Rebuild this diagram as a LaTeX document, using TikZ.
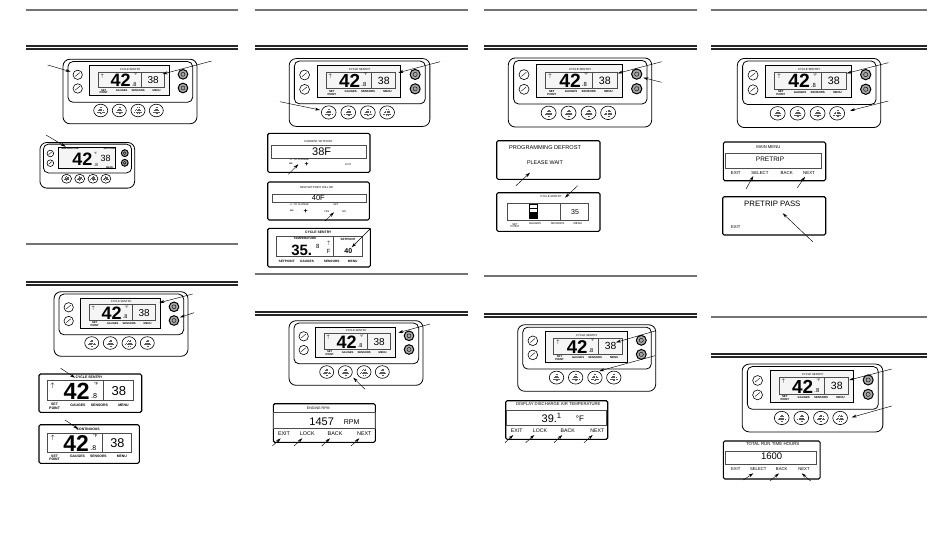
\documentclass[tikz,border=0pt]{standalone}
\usepackage{fontspec}
\setmainfont{Liberation Sans}
\usetikzlibrary{arrows.meta,shapes.geometric}

\newcommand{\fsz}[1]{\fontsize{#1}{#1}\selectfont}
\tikzset{
  rulethin/.style={draw=black!55,line width=1.1pt},
  ruledark/.style={draw=black!85,line width=1.2pt},
  callout/.style={->,line width=.45pt},
  bezel/.style={draw,line width=.8pt,rounded corners=7pt,inner sep=0pt,minimum width=134pt,minimum height=64.6pt},
  facia/.style={draw,line width=.8pt,rounded corners=5pt,inner sep=0pt,minimum width=124.7pt,minimum height=40.7pt},
  glass/.style={draw,line width=.8pt,fill=black!4,inner sep=0pt,minimum width=79.6pt,minimum height=30.3pt},
  leftkey/.style={circle,draw,line width=.6pt,inner sep=0pt,minimum size=9.4pt},
  rightkey/.style={circle,draw,line width=1pt,fill=black!35,inner sep=0pt,minimum size=9.6pt},
  softkey/.style={ellipse,draw,line width=.6pt,inner sep=0pt,minimum width=14pt,minimum height=12.6pt},
  keydots/.style={black!65,line width=.6pt,dash pattern=on .6pt off .5pt},
  lcd/.style={draw,line width=1.1pt,rounded corners=1.5pt,fill=white,inner sep=0pt},
  window/.style={draw=black!70,line width=.5pt,inner sep=0pt},
  txt/.style={inner sep=0pt,text=black},
  softtext/.style={txt,font=\fsz{#1}},
  softtext/.default=4.4,
  every picture/.append style={>={Stealth[length=5pt,width=3pt]}}
}

% display box with its readings, placed by its centre
\newcommand{\lcdshow}[5]{%
  \begin{scope}[shift={(#2,#3)},scale=#4,every node/.append style={transform shape}]
    \node[window,minimum width=66.4pt,minimum height=15.4pt] (#1-box) at (0,0) {};
    \draw[line width=.5pt,black!70] (10.1,-7.7) -- (10.1,7.7);
    \node[txt,font=\fsz{2.7}] (#1-title) at (-1,-10.3) {#5};
    \node[txt,font=\bfseries\fsz{2.6}] (#1-up) at (-29,-4) {$\uparrow$};
    \node[txt,font=\bfseries\fsz{18}] (#1-big) at (-10.5,.6) {42};
    \node[txt,font=\fsz{5.5}] (#1-frac) at (3,4.4) {.8};
    \node[txt,font=\fsz{3.4}] (#1-unit) at (4.5,-5.4) {°F};
    \node[txt,font=\fsz{10}] (#1-set) at (22,.3) {38};
    \node[txt,align=center,font=\bfseries\fsz{2.7}] (#1-a) at (-27.5,11.8) {SET\\POINT};
    \node[txt,font=\bfseries\fsz{2.7}] (#1-b) at (-9.5,11) {GAUGES};
    \node[txt,font=\bfseries\fsz{2.7}] (#1-c) at (7,11) {SENSORS};
    \node[txt,font=\bfseries\fsz{2.7}] (#1-d) at (25.5,11) {MENU};
  \end{scope}}

% housing with all its keys
\newcommand{\panelframe}[4]{%
  \begin{scope}[shift={(#2,#3)},scale=#4,every node/.append style={transform shape}]
    \node[bezel] (#1) at (0,0) {};
    \node[facia] (#1-face) at (.3,-9.6) {};
    \node[glass] (#1-glass) at (-.5,-10.8) {};
    \foreach \ky [count=\ki] in {-16.7,-3} {
      \node[leftkey] (#1-l\ki) at (-52.3,\ky) {};
      \draw[line width=.4pt] (-54.8,\ky+1.6) -- (-50.2,\ky-2.2);
      \node[rightkey] (#1-r\ki) at (53,\ky-.5) {};
      \node[circle,draw,line width=.4pt,inner sep=0pt,minimum size=4pt] (#1-ri\ki) at (53,\ky-.5) {};
    }
    \foreach \bx [count=\bi] in {-29.3,-10.7,8,26.3} {
      \node[softkey] (#1-k\bi) at (\bx,19) {};
      \draw[keydots] (\bx-.6,16.2) -- (\bx+.6,16.2);
      \draw[keydots] (\bx-1.6,17.6) -- (\bx+1.6,17.6);
      \draw[keydots] (\bx-2.6,19) -- (\bx+2.6,19);
      \draw[keydots] (\bx-3.6,20.4) -- (\bx+3.6,20.4);
      \draw[keydots] (\bx-.6,21.8) -- (\bx+.6,21.8);
    }
  \end{scope}}

\newcommand{\panel}[4]{%
  \panelframe{#1}{#2}{#3}{#4}
  \begin{scope}[shift={(#2,#3)},scale=#4]
    \lcdshow{#1-lcd}{1.15}{-11.65}{1}{CYCLE SENTRY}
  \end{scope}}

% free-ended pointer line
\newcommand{\pointer}[3]{%
  \coordinate (#1-from) at (#2);
  \coordinate (#1-to) at (#3);
  \draw[callout] (#1-from) -- (#1-to);}

\newcommand{\softrow}[4]{%
  \foreach \lx/\lt [count=\li] in {#4} {
    \node[softtext=#3] (#1-s\li) at (\lx,#2) {\lt};
  }}

\begin{document}
\begin{tikzpicture}[x=1pt,y=-1pt]
  \useasboundingbox (0,0) rectangle (950,552);

  % page rules
  \foreach \xa/\xb/\ya/\yb in {26/238/244/282,255/468/274/312,484/697/276/314,711/927/317/354} {
    \draw[rulethin] (\xa,10) -- (\xb,10);
    \draw[ruledark] (\xa,46) -- (\xb,46);
    \draw[ruledark] (\xa,49) -- (\xb,49);
    \draw[rulethin] (\xa,\ya) -- (\xb,\ya);
    \draw[ruledark] (\xa,\yb) -- (\xb,\yb);
    \draw[ruledark] (\xa,\yb+3) -- (\xb,\yb+3);
  }

  % first column
  \panel{pa}{130}{91.5}{1}
  \pointer{qa}{47.7,65}{70.7,71.7}
  \pointer{qb}{211.7,61}{162.7,74}

  \panelframe{pb}{87.3}{165.3}{.707}
  \node[txt,font=\bfseries\fsz{2.4}] (pb-temp) at (69.7,149) {TEMPERATURE};
  \node[txt,font=\bfseries\fsz{2.4}] (pb-spt) at (109.7,149) {SETPOINT};
  \node[txt,font=\bfseries\fsz{18}] (pb-big) at (82.5,159.7) {42};
  \node[txt,font=\fsz{3}] (pb-unit) at (95.5,153.7) {°F};
  \node[txt,font=\fsz{4.5}] (pb-frac) at (96,165) {.8};
  \node[txt,font=\fsz{9}] (pb-set) at (105.7,158) {38};
  \node[txt,font=\bfseries\fsz{2.4}] (pb-menu) at (109.7,167.3) {MENU};
  \pointer{qc}{46,135}{65.7,146.7}

  \panel{pc}{121}{324}{1}
  \pointer{qd}{192.7,294}{159.3,302.7}
  \pointer{qe}{194,312.7}{180,317.3}

  \node[lcd,minimum width=102.7pt,minimum height=38.3pt] (sa) at (90.35,393.15) {};
  \lcdshow{sa}{90.3}{390.7}{1.3}{\textbf{CYCLE SENTRY}}
  \pointer{qf}{60.7,368.3}{75,377.7}

  \node[lcd,minimum width=100.3pt,minimum height=38.6pt] (sb) at (89.15,444) {};
  \lcdshow{sb}{89.5}{442.7}{1.27}{\textbf{CONTINUOUS}}
  \pointer{qg}{65,420}{78.3,429}

  % second column
  \panel{pd}{359.5}{92.5}{1.05}
  \pointer{qh}{440,61.7}{398.3,72.7}
  \pointer{qi}{280,101.7}{320,110}

  \node[lcd,minimum width=102.3pt,minimum height=39pt] (sc) at (318.85,152.8) {};
  \node[txt,font=\fsz{2.8}] (sc-title) at (318.3,141.3) {CURRENT SETPOINT};
  \node[window,minimum width=95.4pt,minimum height=13pt] (sc-box) at (319,151.8) {};
  \node[txt,font=\fsz{11}] (sc-val) at (321.7,152) {38F};
  \node[txt,font=\fsz{2.6}] (sc-hint) at (299.3,160) {+/- TO CHANGE};
  \node[txt,font=\bfseries\fsz{7}] (sc-minus) at (290.7,164.3) {--};
  \node[txt,font=\bfseries\fsz{7}] (sc-plus) at (306.7,164.3) {+};
  \node[txt,font=\fsz{2.6}] (sc-exit) at (348.3,164.3) {EXIT};
  \pointer{qj}{288.3,174.3}{298.3,164.3}

  \node[lcd,minimum width=101.6pt,minimum height=38pt] (sd) at (318.5,201) {};
  \node[txt,font=\fsz{2.8}] (sd-title) at (316.7,187.3) {NEW SETPOINT WILL BE};
  \node[window,minimum width=94.4pt,minimum height=8pt] (sd-box) at (319.5,198.3) {};
  \node[txt,font=\fsz{7.5}] (sd-val) at (318.3,198.3) {40F};
  \node[txt,font=\fsz{2.6}] (sd-hint) at (299.3,205) {+/- TO CHANGE};
  \node[txt,font=\fsz{2.6}] (sd-set) at (336,205) {SET};
  \node[txt,font=\bfseries\fsz{7}] (sd-minus) at (291.7,211.7) {--};
  \node[txt,font=\bfseries\fsz{7}] (sd-plus) at (305.7,211.7) {+};
  \node[txt,font=\fsz{2.6}] (sd-yes) at (326.7,211.7) {YES};
  \node[txt,font=\fsz{2.6}] (sd-no) at (344,211.7) {NO};
  \pointer{qk}{325,221}{334,212.3}

  \node[lcd,minimum width=102.6pt,minimum height=38.7pt] (se) at (319,247.65) {};
  \node[txt,font=\bfseries\fsz{3.4}] (se-title) at (318.3,232.7) {CYCLE SENTRY};
  \node[window,minimum width=86.4pt,minimum height=20.7pt] (se-box) at (319.5,246.35) {};
  \draw[line width=.5pt,black!70] (333.3,236) -- (333.3,256.7);
  \node[txt,font=\bfseries\fsz{3}] (se-temp) at (305,238.3) {TEMPERATURE};
  \node[txt,font=\bfseries\fsz{15}] (se-big) at (301.7,250) {35.};
  \node[txt,font=\fsz{6}] (se-frac) at (317.7,246) {8};
  \node[txt,font=\bfseries\fsz{3.6}] (se-up) at (328.7,243.3) {$\uparrow$};
  \node[txt,font=\fsz{6}] (se-unit) at (328.7,251.3) {F};
  \node[txt,font=\bfseries\fsz{3}] (se-spt) at (348,239) {SETPOINT};
  \node[txt,font=\bfseries\fsz{7}] (se-set) at (348.3,250.7) {40};
  \node[txt,font=\bfseries\fsz{3.2}] (se-a) at (286.7,261.7) {SETPOINT};
  \node[txt,font=\bfseries\fsz{3.2}] (se-b) at (307,261.7) {GAUGES};
  \node[txt,font=\bfseries\fsz{3.2}] (se-c) at (331.7,261.7) {SENSORS};
  \node[txt,font=\bfseries\fsz{3.2}] (se-d) at (352.7,261.7) {MENU};
  \pointer{ql}{370.7,228.3}{351.7,247.3}

  \panel{pe}{356}{353}{1}
  \pointer{qm}{430,324}{398.3,332.7}
  \pointer{qn}{365,389.3}{353.3,377.7}

  \node[lcd,minimum width=102pt,minimum height=38.6pt] (sf) at (324.3,423) {};
  \node[window,minimum width=102pt,minimum height=16.3pt] (sf-box) at (324.3,420.2) {};
  \node[txt,font=\fsz{3.6}] (sf-title) at (318.3,408.3) {ENGINE RPM};
  \node[txt,font=\fsz{11}] (sf-val) at (321.7,421.3) {1457};
  \node[txt,font=\fsz{7}] (sf-unit) at (351.7,421.7) {RPM};
  \softrow{sf}{433.7}{5.4}{284/EXIT,307.3/LOCK,335/BACK,364.3/NEXT}
  \pointer{qo}{272.3,446}{280.7,438.3}
  \pointer{qp}{294,446}{302.3,438.3}
  \pointer{qq}{321.7,446}{330,438.3}
  \pointer{qr}{351,446}{359.3,438.3}

  % third column
  \panel{pf}{580}{92.5}{1.07}
  \pointer{qs}{661.7,61.7}{617.7,73.3}
  \pointer{qt}{661.7,82.3}{643.3,77.7}

  \node[lcd,minimum width=103.3pt,minimum height=38.6pt] (sg) at (548.35,160) {};
  \node[txt,font=\fsz{5.6}] (sg-top) at (545,148) {PROGRAMMING DEFROST};
  \node[txt,font=\fsz{5.4}] (sg-wait) at (545,162.3) {PLEASE WAIT};
  \pointer{qu}{516,185.7}{530,172.7}

  \node[lcd,minimum width=103.3pt,minimum height=38.6pt] (sh) at (548.35,212) {};
  \node[txt,font=\fsz{2.8}] (sh-title) at (551,197) {CYCLE SENTRY};
  \node[window,minimum width=81.7pt,minimum height=16.6pt] (sh-box) at (547.85,212) {};
  \draw[line width=.5pt,black!70] (560.3,203.7) -- (560.3,220.3);
  \node[draw,line width=.5pt,inner sep=0pt,minimum width=8.3pt,minimum height=14.3pt] (sh-bar) at (533.15,211.15) {};
  \fill[black] (529,212.3) rectangle (537.3,218.3);
  \draw[line width=.4pt] (529,207.7) -- (537.3,207.7);
  \node[txt,font=\fsz{7}] (sh-set) at (575,212) {35};
  \node[txt,align=center,font=\fsz{2.8}] (sh-a) at (515,225.5) {SET\\POINT};
  \node[txt,font=\fsz{2.8}] (sh-b) at (535,223.7) {GAUGES};
  \node[txt,font=\fsz{2.8}] (sh-c) at (557.7,223.7) {SENSORS};
  \node[txt,font=\fsz{2.8}] (sh-d) at (577.7,223.7) {MENU};
  \pointer{qv}{577.7,185.7}{565,197.7}

  \panel{pg}{586.7}{358}{1.03}
  \pointer{qw}{655,331}{616,342.3}
  \pointer{qx}{655,355.7}{599.3,371}

  \node[lcd,minimum width=102pt,minimum height=38.6pt] (si) at (556.7,420) {};
  \node[txt,font=\fsz{4.2}] (si-title) at (558.3,403.7) {DISPLAY DISCHARGE AIR TEMPERATURE};
  \node[window,minimum width=100pt,minimum height=15pt] (si-box) at (556.7,418.2) {};
  \node[txt,font=\fsz{11}] (si-val) at (551.7,417.7) {39.\textsuperscript{1}};
  \node[txt,font=\fsz{8}] (si-unit) at (580,419) {°F};
  \softrow{si}{431}{5.2}{516.7/EXIT,540/LOCK,567.7/BACK,597.3/NEXT}
  \pointer{qy}{505,442.7}{513.3,435}
  \pointer{qz}{525.7,442.7}{534.3,435}
  \pointer{ra}{554,442.7}{562.3,435}
  \pointer{rb}{584,442.7}{592.7,435}

  % fourth column
  \panel{ph}{809}{93}{1.07}
  \pointer{rc}{888.3,62.7}{846.7,73.3}
  \pointer{rd}{888.3,101}{850,110.7}

  \node[lcd,minimum width=102.4pt,minimum height=38.7pt] (sj) at (774.5,161.35) {};
  \node[txt,font=\fsz{4.2}] (sj-title) at (768.3,147.3) {MAIN MENU};
  \node[window,minimum width=96pt,minimum height=15pt] (sj-box) at (773.7,160.8) {};
  \node[txt,font=\fsz{6.5}] (sj-val) at (770,159) {PRETRIP};
  \softrow{sj}{173}{4.4}{735.7/EXIT,760/SELECT,786.7/BACK,809/NEXT}
  \pointer{re}{746,189}{753.3,176}
  \pointer{rf}{797.3,187.7}{805,176.7}

  \node[lcd,minimum width=103pt,minimum height=38.3pt] (sk) at (774.2,215.85) {};
  \node[txt,font=\fsz{7.8}] (sk-val) at (772.3,204.3) {PRETRIP PASS};
  \node[txt,font=\fsz{4.2}] (sk-exit) at (735.7,227) {EXIT};
  \pointer{rg}{812.7,241.7}{782.7,213.3}

  \panel{pi}{812.5}{398}{1.05}
  \pointer{rh}{891.7,369}{849.3,380}
  \pointer{ri}{891.7,406}{851.7,417.3}

  \node[lcd,minimum width=96.7pt,minimum height=38pt] (sl) at (771.7,460) {};
  \node[txt,font=\fsz{4.4}] (sl-title) at (772.7,444.3) {TOTAL RUN TIME HOURS};
  \node[window,minimum width=91pt,minimum height=13.3pt] (sl-box) at (771.2,457.7) {};
  \node[txt,font=\fsz{9.5}] (sl-val) at (771.7,456.7) {1600};
  \softrow{sl}{469.3}{4.2}{735.7/EXIT,758.3/SELECT,781.7/BACK,804/NEXT}
  \pointer{rj}{743.3,480}{753.3,473.3}
  \pointer{rk}{770,481}{779,473.3}
  \pointer{rl}{810.7,481}{801.7,473.3}
\end{tikzpicture}
\end{document}
